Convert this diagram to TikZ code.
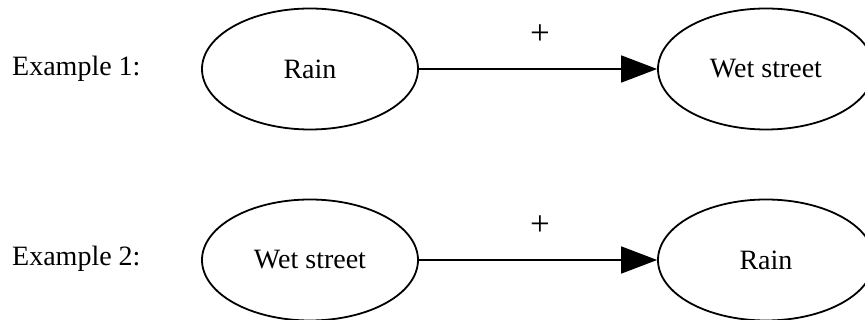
\documentclass[tikz,border=0pt]{standalone}
\usepackage{fontspec}
\setmainfont{Liberation Serif}
\usetikzlibrary{arrows.meta,shapes.geometric}
\begin{document}
\begin{tikzpicture}[x=1pt,y=-1pt,
  every node/.style={font=\fontsize{28}{32}\selectfont},
  state/.style={draw, line width=1.8pt, ellipse, minimum width=216pt, minimum height=121pt, inner sep=0pt},
  caption/.style={anchor=west, inner sep=0pt},
  causal/.style={line width=1.8pt, -{Triangle[length=36pt,width=27pt]}},
  sign/.style={inner sep=0pt, font=\fontsize{35}{38}\selectfont}]
  \useasboundingbox (0,0) rectangle (865,320);

  % first example: rain causes a wet street
  \node[caption] (ex1) at (12,69) {Example 1:};
  \node[state] (rain1) at (310,69) {Rain};
  \node[state] (wet1) at (766,69) {Wet street};
  \draw[causal] (rain1) -- (wet1) coordinate[midway] (m1);
  \node[sign] (p1) at ([xshift=2pt,yshift=34pt]m1) {+};

  % second example: the reversed direction
  \node[caption] (ex2) at (12,259) {Example 2:};
  \node[state] (wet2) at (310,260) {Wet street};
  \node[state] (rain2) at (766,260) {Rain};
  \draw[causal] (wet2) -- (rain2) coordinate[midway] (m2);
  \node[sign] (p2) at ([xshift=2pt,yshift=34pt]m2) {+};
\end{tikzpicture}
\end{document}
